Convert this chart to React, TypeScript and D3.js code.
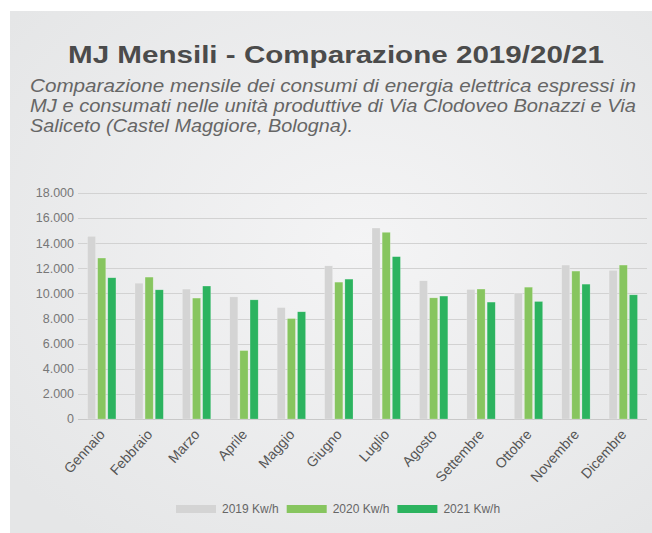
import * as d3 from 'd3';

const months = ['Gennaio', 'Febbraio', 'Marzo', 'Aprile', 'Maggio', 'Giugno', 'Luglio', 'Agosto', 'Settembre', 'Ottobre', 'Novembre', 'Dicembre'];
const series = ['2019 Kw/h', '2020 Kw/h', '2021 Kw/h'];
const values2019 = [14550, 10820, 10350, 9730, 8880, 12200, 15210, 11010, 10320, 10030, 12260, 11840];
const values2020 = [12820, 11300, 9630, 5450, 8000, 10900, 14870, 9650, 10350, 10500, 11780, 12260];
const values2021 = [11250, 10290, 10590, 9490, 8540, 11140, 12930, 9790, 9310, 9360, 10740, 9890];
const yTicks = [0, 2000, 4000, 6000, 8000, 10000, 12000, 14000, 16000, 18000];
const colors = ['#d4d4d4', '#87c55f', '#2cb35f'];

const width = 652;
const height = 533;
const margin = { top: 193, right: 5, bottom: 114, left: 78 };

const itFormat = d3.formatLocale({ decimal: ',', thousands: '.', grouping: [3], currency: ['', '€'] }).format(',d');

export default function App() {
  const data = [values2019, values2020, values2021];

  const x = d3
    .scaleBand<string>()
    .domain(months)
    .range([margin.left, width - margin.right])
    .paddingInner(0.4)
    .paddingOuter(0.2);

  const x1 = d3
    .scaleBand<string>()
    .domain(series)
    .range([0, x.bandwidth()])
    .paddingInner(0.2);

  const y = d3
    .scaleLinear()
    .domain([0, 18000])
    .range([height - margin.bottom, margin.top]);

  const font = 'Liberation Sans, Arial, Helvetica, sans-serif';

  return (
    <svg
      width={width}
      height={height}
      viewBox={`0 0 ${width} ${height}`}
      style={{ position: 'absolute', left: 0, top: 0, fontFamily: font }}
    >
      <defs>
        <radialGradient id="bg" cx="0.55" cy="0.45" r="0.7">
          <stop offset="0" stopColor="#f4f4f5" />
          <stop offset="1" stopColor="#e5e6e7" />
        </radialGradient>
      </defs>
      <rect x={0} y={0} width={width} height={height} fill="#fff" />
      <rect x={10} y={11} width={width - 10} height={height - 11} fill="url(#bg)" />

      <text x={68} y={63} fontSize={24} fontWeight="bold" fill="#4b4b4b" textLength={536} lengthAdjust="spacingAndGlyphs">
        MJ Mensili - Comparazione 2019/20/21
      </text>
      <g fontSize={17.5} fontStyle="italic" fill="#666">
        <text x={30} y={92} textLength={606} lengthAdjust="spacingAndGlyphs">
          Comparazione mensile dei consumi di energia elettrica espressi in
        </text>
        <text x={30} y={112} textLength={606} lengthAdjust="spacingAndGlyphs">
          MJ e consumati nelle unità produttive di Via Clodoveo Bonazzi e Via
        </text>
        <text x={30} y={132} textLength={323} lengthAdjust="spacingAndGlyphs">
          Saliceto (Castel Maggiore, Bologna).
        </text>
      </g>

      {yTicks.map((t) => (
        <g key={t}>
          <line
            x1={margin.left}
            x2={width - margin.right}
            y1={Math.round(y(t)) + 0.5}
            y2={Math.round(y(t)) + 0.5}
            stroke={t === 0 ? '#c8c8c8' : '#d2d2d2'}
          />
          <text x={74} y={y(t)} dy="0.35em" textAnchor="end" fontSize={12.5} fill="#777">
            {itFormat(t)}
          </text>
        </g>
      ))}

      {months.map((m, i) => (
        <g key={m} transform={`translate(${x(m)},0)`}>
          {series.map((sr, j) => (
            <rect
              key={sr}
              x={x1(sr)}
              y={y(data[j][i])}
              width={x1.bandwidth()}
              height={y(0) - y(data[j][i])}
              fill={colors[j]}
              stroke="rgba(255,255,255,0.35)"
              strokeWidth={0.6}
            />
          ))}
        </g>
      ))}

      {months.map((m) => {
        const cx = (x(m) as number) + x.bandwidth() / 2 + 4;
        const cy = y(0) + 16;
        return (
          <text
            key={m}
            transform={`translate(${cx},${cy}) rotate(-48)`}
            textAnchor="end"
            fontSize={14}
            fill="#555"
          >
            {m}
          </text>
        );
      })}

      {series.map((sr, j) => {
        const lx = 176 + j * 110.7;
        return (
          <g key={sr} transform={`translate(${lx},505)`}>
            <rect x={0} y={0} width={40} height={8} fill={colors[j]} />
            <text x={46} y={8} fontSize={12} fill="#666">
              {sr}
            </text>
          </g>
        );
      })}
    </svg>
  );
}
